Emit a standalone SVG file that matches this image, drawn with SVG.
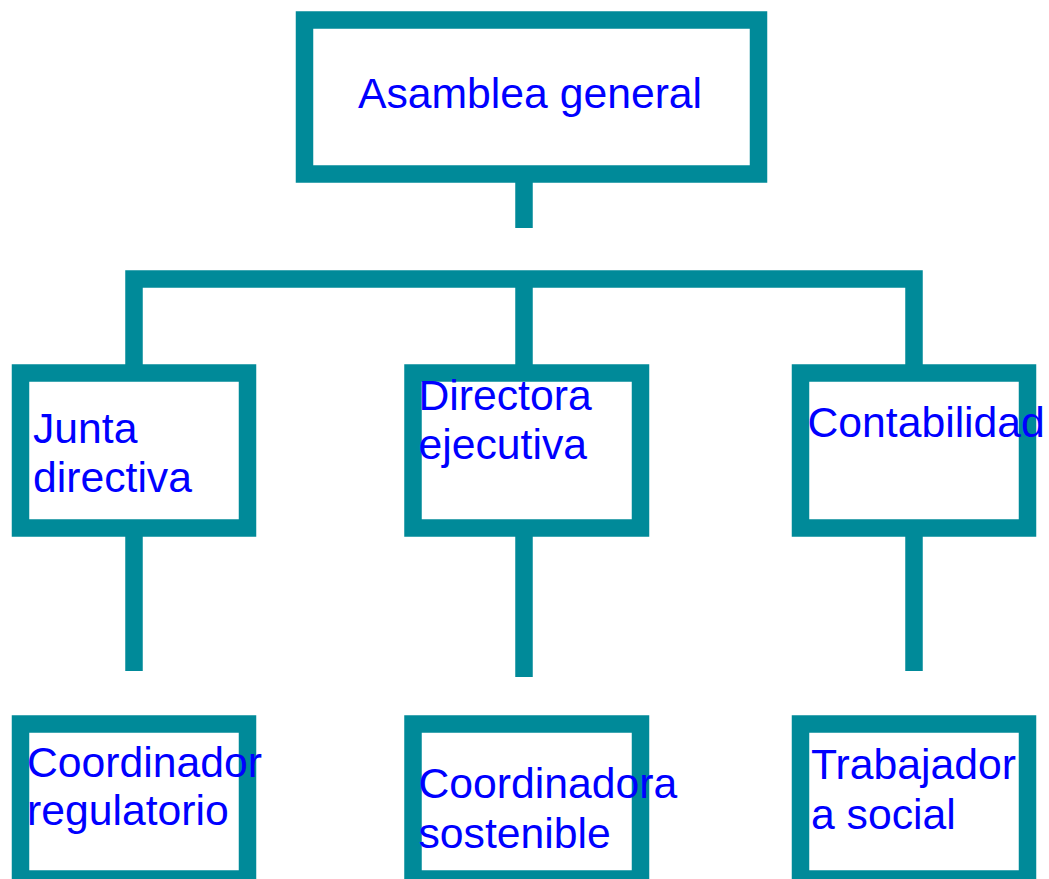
<svg xmlns="http://www.w3.org/2000/svg" width="1049" height="879" viewBox="0 0 1049 879">
<style>
.box{fill:#fff;stroke:#008A99;stroke-width:17.5}
.con{fill:none;stroke:#008A99;stroke-width:17.5;stroke-linejoin:miter;stroke-linecap:butt}
.t{font-family:"Liberation Sans",Arial,sans-serif;font-size:42.7px;fill:#0000FF}
</style>
<rect width="1049" height="879" fill="#fff"/>
<g id="connectors">
<path class="con" d="M524 182 V228"/>
<path class="con" d="M134 365 V279 H914 V365"/>
<path class="con" d="M524 279 V365"/>
<path class="con" d="M134 536 V671"/>
<path class="con" d="M524 536 V677"/>
<path class="con" d="M914 536 V671"/>
</g>
<g id="asamblea">
<rect class="box" x="304.5" y="20" width="454" height="154"/>
<text class="t" x="358" y="108">Asamblea general</text>
</g>
<g id="junta">
<rect class="box" x="20.5" y="373" width="227" height="155"/>
<text class="t" x="33" y="443">Junta</text>
<text class="t" x="33" y="492">directiva</text>
</g>
<g id="directora">
<rect class="box" x="413" y="373" width="227.5" height="155"/>
<text class="t" x="418.5" y="410">Directora</text>
<text class="t" x="418.5" y="459">ejecutiva</text>
</g>
<g id="contabilidad">
<rect class="box" x="800.5" y="373" width="227" height="155"/>
<text class="t" x="807.5" y="437">Contabilidad</text>
</g>
<g id="coordinador">
<rect class="box" x="20.5" y="724" width="227" height="155"/>
<text class="t" x="27" y="777">Coordinador</text>
<text class="t" x="27" y="825">regulatorio</text>
</g>
<g id="coordinadora">
<rect class="box" x="413" y="724" width="227.5" height="155"/>
<text class="t" x="418.5" y="798">Coordinadora</text>
<text class="t" x="418.5" y="848">sostenible</text>
</g>
<g id="trabajadora">
<rect class="box" x="800.5" y="724" width="227" height="155"/>
<text class="t" x="811" y="779">Trabajador</text>
<text class="t" x="811" y="829">a social</text>
</g>
</svg>
